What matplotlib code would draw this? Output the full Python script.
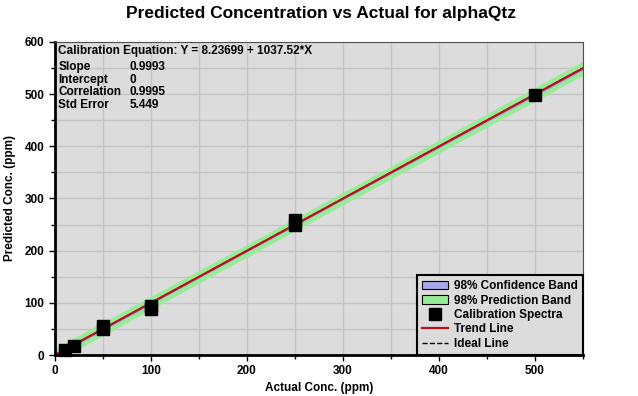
import matplotlib
matplotlib.use("Agg")
import matplotlib.pyplot as plt
from matplotlib.patches import Patch
from matplotlib.lines import Line2D
from matplotlib.ticker import MultipleLocator

plt.rcParams['font.family'] = ['Liberation Sans', 'DejaVu Sans']
plt.rcParams['font.weight'] = 'bold'

# calibration samples (actual vs predicted, ppm)
actual = [10, 20, 50, 50, 100, 100, 250, 250, 500]
predicted = [9, 18, 49, 55, 89, 94, 250, 259, 498]

# band edges along x (ppm), half widths
band_x = [0, 100, 250, 400, 550]
pred_half = [13, 12.5, 12, 12.5, 13.5]
conf_half = [3.5, 3, 2.5, 3, 4]

slope = 0.9993
intercept = 0
stats_names = ['Slope', 'Intercept', 'Correlation', 'Std Error']
stats_values = ['0.9993', '0', '0.9995', '5.449']
equation = 'Calibration Equation: Y = 8.23699 + 1037.52*X'

fig = plt.figure(figsize=(6.38, 3.96), dpi=100)
ax = fig.add_axes([0.0862, 0.1035, 0.8276, 0.7905])
ax.set_facecolor('#dcdcdc')

trend = [intercept + slope * x for x in band_x]
ax.fill_between(band_x, [t - h for t, h in zip(trend, pred_half)],
                [t + h for t, h in zip(trend, pred_half)],
                color='#98ec98', lw=0)
ax.fill_between(band_x, [t - h for t, h in zip(trend, conf_half)],
                [t + h for t, h in zip(trend, conf_half)],
                color='#a8a8e8', lw=0)
ax.plot(band_x, band_x, color='black', ls='--', lw=1)
ax.plot(band_x, trend, color='#b81414', lw=1.6)
ax.plot(actual, predicted, 's', color='black', ms=9, ls='none', clip_on=False, zorder=5)

ax.set_xlim(0, 550)
ax.set_ylim(0, 600)
ax.xaxis.set_major_locator(MultipleLocator(100))
ax.xaxis.set_minor_locator(MultipleLocator(50))
ax.yaxis.set_major_locator(MultipleLocator(100))
ax.yaxis.set_minor_locator(MultipleLocator(50))
ax.grid(True, which='both', color='#c4c4c4', lw=1)
ax.set_axisbelow(True)
ax.tick_params(which='both', direction='out', labelsize=8.5, width=1)
ax.tick_params(which='major', length=4)
ax.tick_params(which='minor', length=3)
for lab in ax.get_xticklabels() + ax.get_yticklabels():
    lab.set_fontweight('bold')

ax.spines['left'].set_linewidth(2)
ax.spines['bottom'].set_linewidth(2)
ax.spines['top'].set_color('#505050')
ax.spines['right'].set_color('#505050')

ax.set_xlabel('Actual Conc. (ppm)', fontsize=8.5, fontweight='bold', labelpad=3)
ax.set_ylabel('Predicted Conc. (ppm)', fontsize=8.5, fontweight='bold', labelpad=6)
fig.suptitle('Predicted Concentration vs Actual for alphaQtz', x=0.503, y=0.985,
             fontsize=12.5, fontweight='bold')

ax.text(0.006, 0.99, equation, transform=ax.transAxes, fontsize=8.5,
        fontweight='bold', va='top', ha='left')
for i, (n, v) in enumerate(zip(stats_names, stats_values)):
    yy = 0.94 - i * 0.041
    ax.text(0.006, yy, n, transform=ax.transAxes, fontsize=8.5, fontweight='bold',
            va='top', ha='left')
    ax.text(0.142, yy, v, transform=ax.transAxes, fontsize=8.5, fontweight='bold',
            va='top', ha='left')

handles = [
    Patch(facecolor='#a8a8e8', edgecolor='black', lw=0.8),
    Patch(facecolor='#98ec98', edgecolor='black', lw=0.8),
    Line2D([], [], marker='s', color='black', ls='none', ms=9),
    Line2D([], [], color='#b81414', lw=1.6),
    Line2D([], [], color='black', ls='--', lw=1),
]
labels = ['98% Confidence Band', '98% Prediction Band', 'Calibration Spectra',
          'Trend Line', 'Ideal Line']
leg = ax.legend(handles, labels, loc='lower right', fontsize=8.5, frameon=True,
                fancybox=False, edgecolor='black', facecolor='#dcdcdc',
                framealpha=1, borderaxespad=0, handlelength=2.2,
                handletextpad=0.5, labelspacing=0.2, borderpad=0.45)
leg.get_frame().set_linewidth(1.5)
for t in leg.get_texts():
    t.set_fontweight('bold')

fig.savefig('out.png', dpi=100)
